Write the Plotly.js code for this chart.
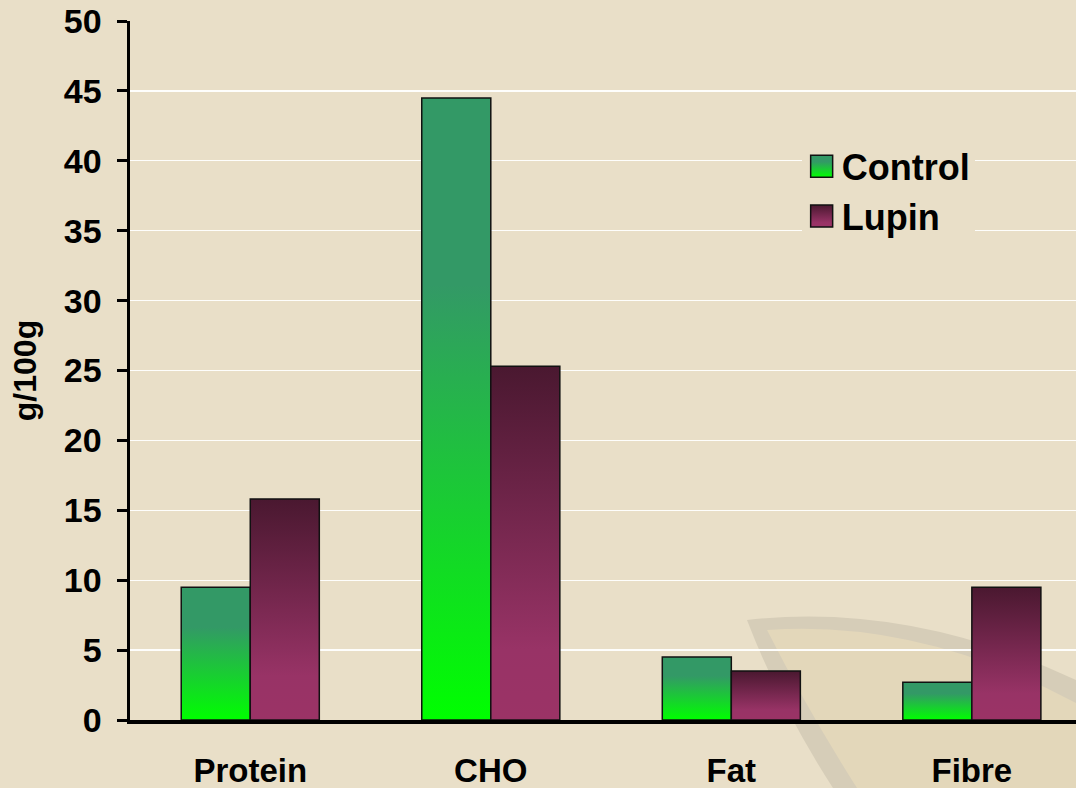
<!DOCTYPE html>
<html>
<head>
<meta charset="utf-8">
<script src="https://cdn.plot.ly/plotly-3.0.1.min.js"></script>
<style>
  html, body { margin: 0; padding: 0; background: #e9dfc8; }
  #chart { width: 1076px; height: 788px; }
</style>
</head>
<body>
<div id="chart"></div>
<script>
const categories = ['Protein', 'CHO', 'Fat', 'Fibre'];
const seriesNames = ['Control', 'Lupin'];
const controlValues = [9.5, 44.5, 4.5, 2.7];
const lupinValues = [15.8, 25.3, 3.5, 9.5];
const yTickValues = [0, 5, 10, 15, 20, 25, 30, 35, 40, 45, 50];

const BG = '#e9dfc8';
const FONT = 'Arial, "Liberation Sans", sans-serif';

// pixel -> paper helpers for the decorative background leaf
const PL = 130, PR = 1076, PT = 21, PB = 720;
function px(x) { return ((x - PL) / (PR - PL)).toFixed(4); }
function py(y) { return ((PB - y) / (PB - PT)).toFixed(4); }
function pt(x, y) { return px(x) + ',' + py(y); }

const outerLeaf = 'M' + pt(747, 620) + ' Q' + pt(910, 602) + ' ' + pt(1076, 680) +
  ' L' + pt(1076, 788) + ' L' + pt(833, 788) + ' Q' + pt(780, 706) + ' ' + pt(747, 620) + ' Z';
const innerLeaf = 'M' + pt(767, 630) + ' Q' + pt(920, 619) + ' ' + pt(1076, 703) +
  ' L' + pt(1076, 788) + ' L' + pt(857, 788) + ' Q' + pt(808, 711) + ' ' + pt(767, 630) + ' Z';

const traces = [
  {
    type: 'bar', name: seriesNames[0], x: categories, y: controlValues,
    marker: { color: '#1fcc40', line: { color: '#111111', width: 1.5 } }
  },
  {
    type: 'bar', name: seriesNames[1], x: categories, y: lupinValues,
    marker: { color: '#72254a', line: { color: '#111111', width: 1.5 } }
  }
];

const layout = {
  width: 1076, height: 788,
  paper_bgcolor: BG, plot_bgcolor: 'rgba(0,0,0,0)',
  margin: { l: PL, r: 1076 - PR, t: PT, b: 788 - PB, pad: 0 },
  barmode: 'group', bargap: 0.426, bargroupgap: 0,
  font: { family: FONT, color: '#000000', weight: 'bold' },
  showlegend: true,
  legend: {
    x: 0.710, y: 0.835, xanchor: 'left', yanchor: 'top',
    bgcolor: BG, borderwidth: 0,
    font: { family: FONT, size: 36, weight: 'bold', color: '#000' },
    itemclick: false
  },
  xaxis: {
    type: 'category', range: [-0.5, 3.433], fixedrange: true,
    showline: true, linecolor: '#000', linewidth: 3.5,
    ticks: '', showgrid: false, zeroline: false,
    tickfont: { family: FONT, size: 33, weight: 'bold', color: '#000' },
    ticklabelstandoff: 19
  },
  yaxis: {
    range: [0, 50], tickvals: yTickValues, ticktext: yTickValues.map(String),
    showline: true, linecolor: '#000', linewidth: 3.5,
    ticks: 'outside', ticklen: 10, tickwidth: 3, tickcolor: '#000',
    showgrid: true, gridcolor: 'rgba(255,255,255,0.95)', gridwidth: 1.2,
    zeroline: false,
    tickfont: { family: FONT, size: 34, weight: 'bold', color: '#000' },
    ticklabelstandoff: 8,
    title: { text: 'g/100g', standoff: 18, font: { family: FONT, size: 32, weight: 'bold', color: '#000' } },
    automargin: false
  },
  shapes: [
    { type: 'path', xref: 'paper', yref: 'paper', layer: 'below', path: outerLeaf,
      fillcolor: '#d6cdb8', line: { width: 0 } },
    { type: 'path', xref: 'paper', yref: 'paper', layer: 'below', path: innerLeaf,
      fillcolor: '#e3d7ba', line: { width: 0 } }
  ]
};

function applyGradients(gd) {
  const svg = gd.querySelector('svg.main-svg');
  const ns = 'http://www.w3.org/2000/svg';
  const defs = document.createElementNS(ns, 'defs');
  function grad(id, stops) {
    const g = document.createElementNS(ns, 'linearGradient');
    g.setAttribute('id', id);
    g.setAttribute('x1', '0'); g.setAttribute('y1', '0');
    g.setAttribute('x2', '0'); g.setAttribute('y2', '1');
    stops.forEach(s => {
      const st = document.createElementNS(ns, 'stop');
      st.setAttribute('offset', s[0]);
      st.setAttribute('stop-color', s[1]);
      g.appendChild(st);
    });
    defs.appendChild(g);
  }
  grad('gradControl', [['0', '#339966'], ['0.3', '#339966'], ['1', '#00ff00']]);
  grad('gradLupin', [['0', '#4a1830'], ['0.8', '#983366'], ['1', '#9b3366']]);
  svg.insertBefore(defs, svg.firstChild);
  const ids = ['gradControl', 'gradLupin'];
  gd.querySelectorAll('.barlayer .trace').forEach((t, i) => {
    t.querySelectorAll('path').forEach(p => { p.style.fill = 'url(#' + ids[i] + ')'; });
  });
  gd.querySelectorAll('.legend .traces').forEach((t, i) => {
    t.querySelectorAll('.legendpoints path').forEach(p => {
      p.setAttribute('d', 'M11,11H-11V-11H11Z');
      p.style.fill = 'url(#' + ids[i] + ')';
      p.style.stroke = '#111';
      p.style.strokeWidth = '1.5px';
    });
  });
}

Plotly.newPlot('chart', traces, layout, { displayModeBar: false, staticPlot: true })
  .then(applyGradients);
</script>
</body>
</html>
